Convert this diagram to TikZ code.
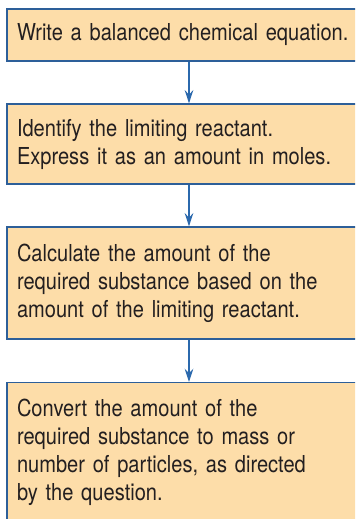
\documentclass[tikz,border=0pt]{standalone}
\usepackage{fontspec}
\setmainfont{TeX Gyre Heros}[FakeStretch=0.86]
\usetikzlibrary{arrows.meta}
\definecolor{boxfill}{HTML}{FDDDA9}
\definecolor{boxline}{HTML}{2D5F99}
\definecolor{arrowblue}{HTML}{2B69AD}
\definecolor{inktext}{HTML}{231F20}
\begin{document}
\begin{tikzpicture}[x=0.75pt,y=0.75pt,
  stepbox/.style={draw=boxline,line width=1pt,fill=boxfill,text=inktext,
    minimum width=273pt,text width=258pt,inner xsep=7.5pt,align=left,
    font=\fontsize{17.5pt}{21pt}\selectfont},
  link/.style={draw=arrowblue,line width=0.8pt,-{Stealth[length=10pt,width=6.5pt,inset=3.5pt]}}]
  \useasboundingbox (0,0) rectangle (355,-519);
  \clip (0,0) rectangle (355,-519);
  \node[stepbox,minimum height=39pt] (a) at (189,-35) {Write a balanced chemical equation.};
  \node[stepbox,minimum height=60pt] (b) at (189,-144) {Identify the limiting reactant.\\Express it as an amount in moles.};
  \node[stepbox,minimum height=84pt] (c) at (189,-283) {Calculate the amount of the\\required substance based on the\\amount of the limiting reactant.};
  \node[stepbox,minimum height=104pt,anchor=north] (d) at (189,-382) {Convert the amount of the\\required substance to mass or\\number of particles, as directed\\by the question.};
  \draw[link] (a) -- (b);
  \draw[link] (b) -- (c);
  \draw[link] (c) -- (d);
\end{tikzpicture}
\end{document}
